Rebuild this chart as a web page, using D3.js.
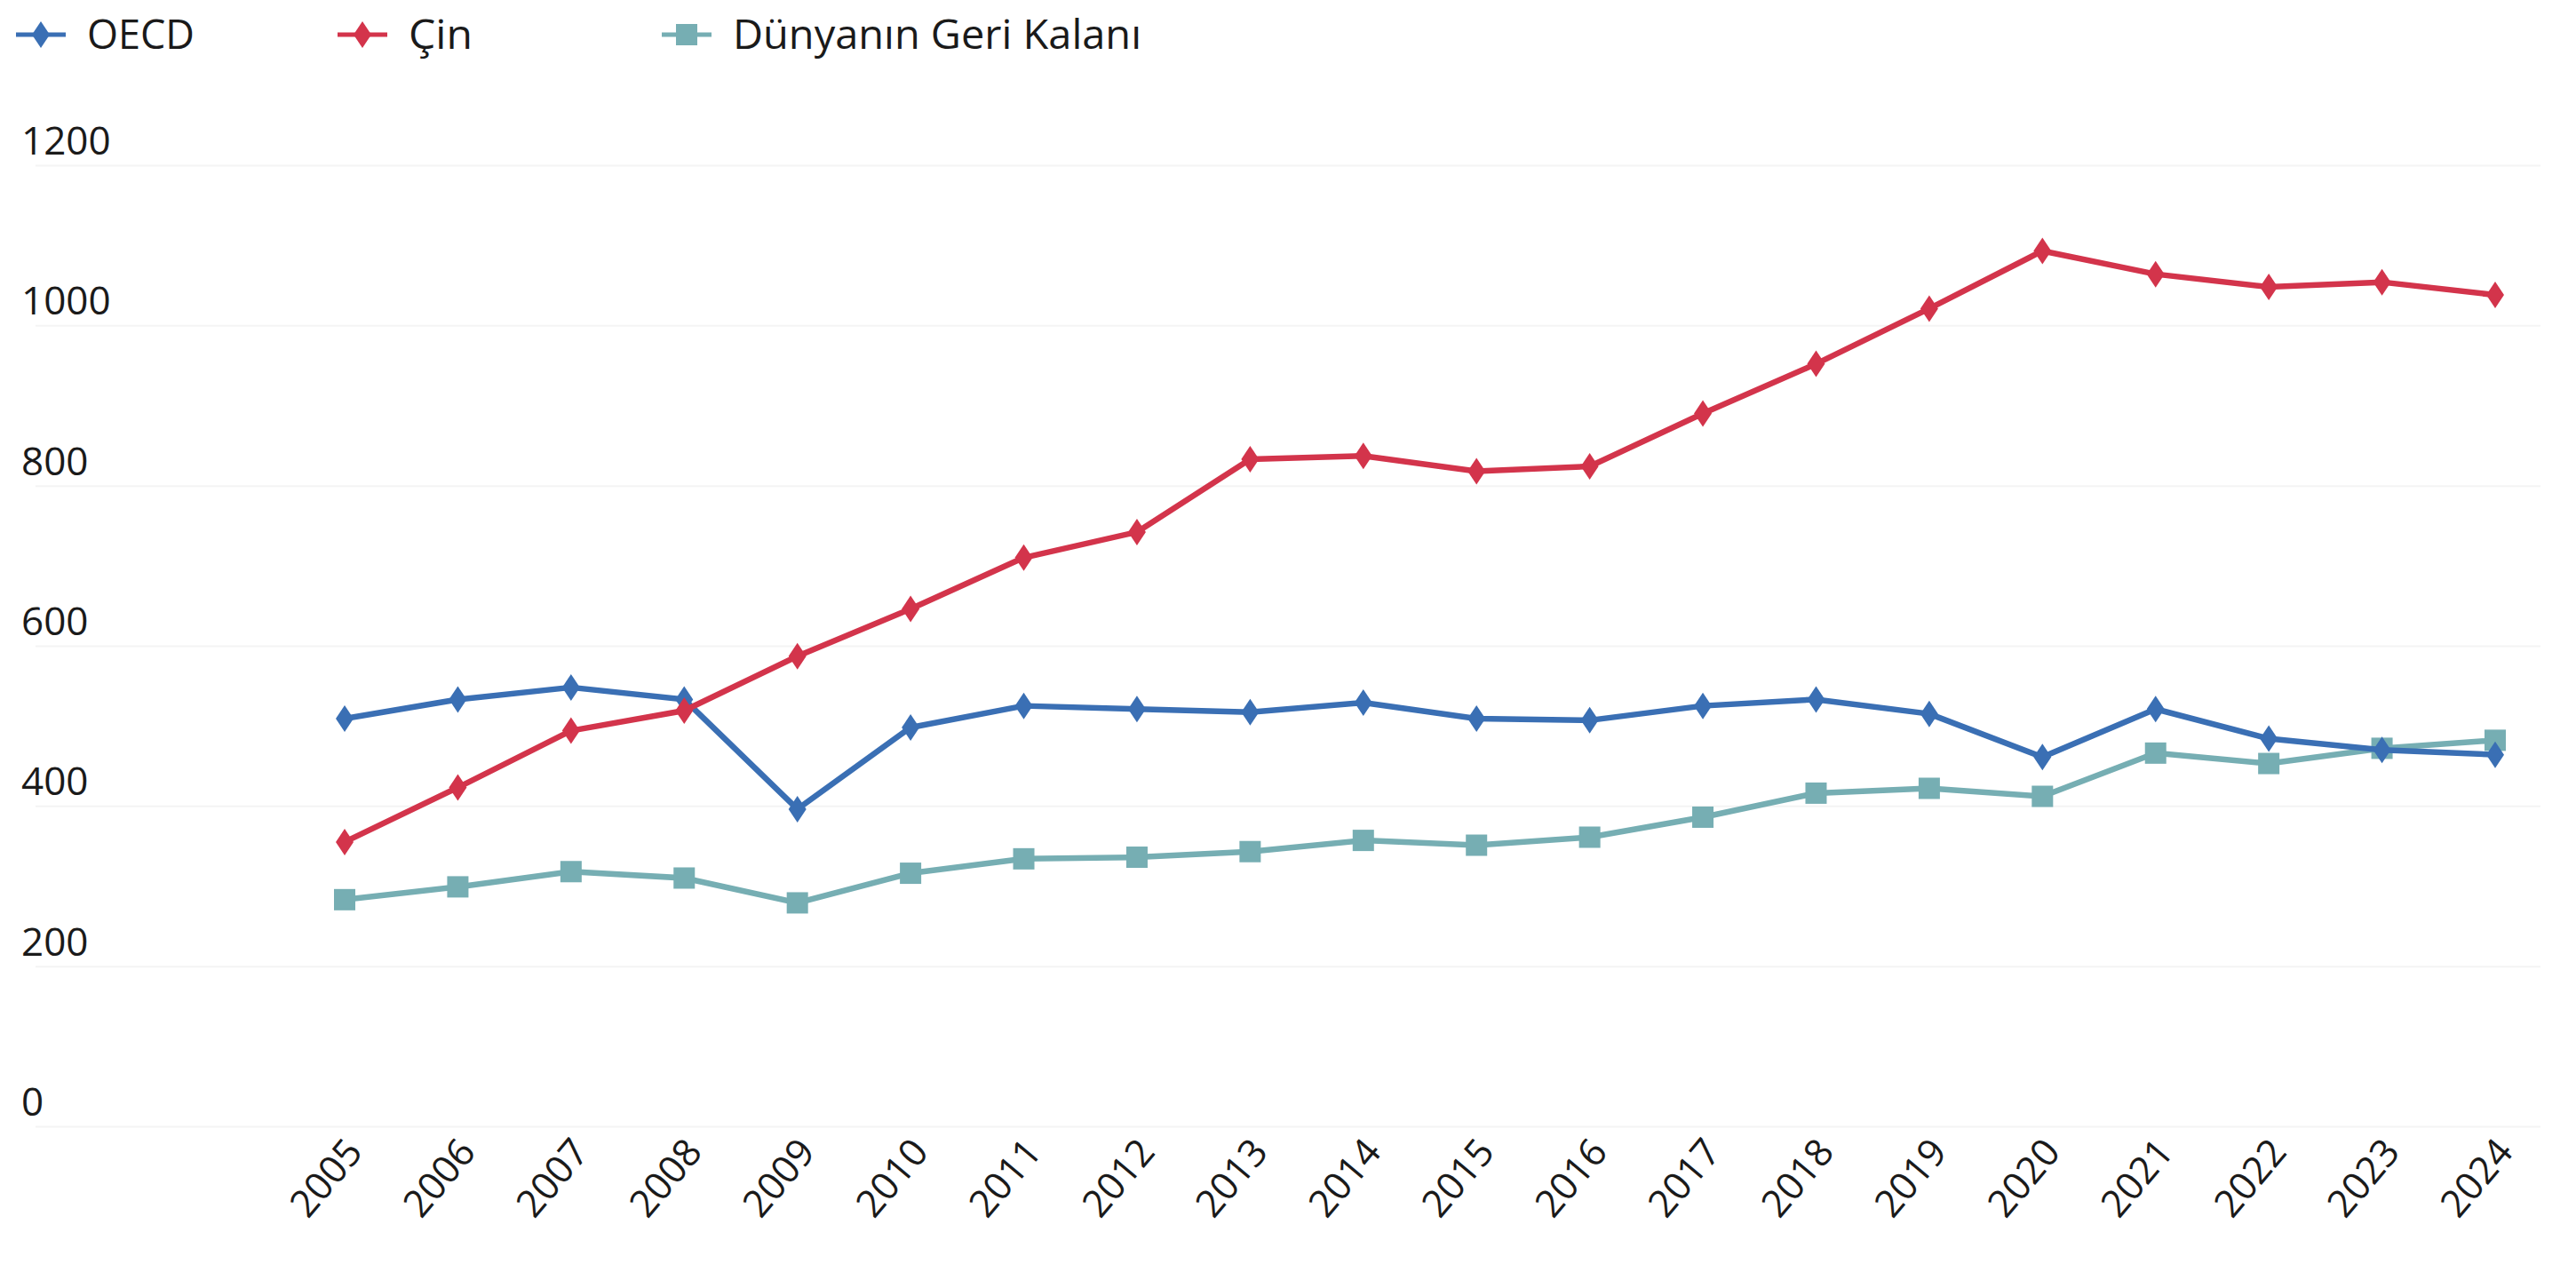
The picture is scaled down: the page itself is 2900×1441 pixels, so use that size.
<!DOCTYPE html>
<html>
<head>
<meta charset="utf-8">
<script src="https://cdn.jsdelivr.net/npm/d3@7"></script>
<style>
  body { margin: 0; background: #fff; }
  text { font-family: "Open Sans", sans-serif; fill: #1a1a1a; }
</style>
</head>
<body>
<div id="chart"></div>
<script>
// data
var years = ['2005','2006','2007','2008','2009','2010','2011','2012','2013','2014',
             '2015','2016','2017','2018','2019','2020','2021','2022','2023','2024']
var oecd  = [509, 533, 548, 533, 396, 498, 525, 521, 517, 529, 509, 507, 525, 533, 515, 461, 521, 484, 470, 464]
var cin   = [355, 423, 494, 519, 587, 646, 710, 742, 833, 837, 818, 824, 890, 952, 1021, 1093, 1064, 1048, 1054, 1038]
var dunya = [283, 299, 318, 310, 279, 316, 334, 336, 343, 357, 351, 361, 386, 416, 422, 412, 466, 453, 472, 482]
var yTicks = [0, 200, 400, 600, 800, 1000, 1200]
var seriesNames = ['OECD', 'Çin', 'Dünyanın Geri Kalanı']

var width = 2900, height = 1441

var series = [
  {name: seriesNames[0], values: oecd,  color: '#3a6fb4', shape: 'diamond'},
  {name: seriesNames[1], values: cin,   color: '#d3344b', shape: 'diamond'},
  {name: seriesNames[2], values: dunya, color: '#76aeb3', shape: 'square'}
]

var svg = d3.select('#chart').append('svg')
  .attr('width', width)
  .attr('height', height)

var x = d3.scalePoint().domain(years).range([388, 2809])
var y = d3.scaleLinear().domain([0, 1200]).range([1268, 186])

// gridlines (very faint in the original)
var grid = svg.append('g').attr('class', 'grid')
  .attr('transform', 'translate(2860,0)')
  .call(d3.axisLeft(y).tickValues(yTicks).tickSize(2820).tickFormat(''))
grid.select('.domain').remove()
grid.selectAll('line').attr('stroke', '#f4f4f4').attr('stroke-width', 2)

// y labels, left aligned above gridline
svg.append('g').selectAll('text')
  .data(yTicks).enter().append('text')
    .attr('x', 24)
    .attr('y', function(d){ return y(d) - 12 })
    .attr('font-size', 44)
    .text(function(d){ return d })

// x labels
svg.append('g').selectAll('text')
  .data(years).enter().append('text')
    .attr('transform', function(d){ return 'translate(' + (x(d) + 22) + ',1298) rotate(-50)' })
    .attr('text-anchor', 'end')
    .attr('font-size', 43)
    .text(function(d){ return d })

function marker(sel, shape, color){
  if(shape === 'diamond'){
    sel.append('path').attr('d', 'M0,-15L10,0L0,15L-10,0Z').attr('fill', color)
  } else {
    sel.append('rect').attr('x', -12).attr('y', -12).attr('width', 24).attr('height', 24).attr('fill', color)
  }
}

var line = d3.line()
  .x(function(d, i){ return x(years[i]) })
  .y(function(d){ return y(d) })

// draw teal first so red/blue sit on top
var order = [series[2], series[0], series[1]]
order.forEach(function(s){
  var g = svg.append('g')
  g.append('path')
    .attr('d', line(s.values))
    .attr('fill', 'none')
    .attr('stroke', s.color)
    .attr('stroke-width', 6.5)
    .attr('stroke-linejoin', 'round')
  s.values.forEach(function(v, i){
    var m = g.append('g').attr('transform', 'translate(' + x(years[i]) + ',' + y(v) + ')')
    marker(m, s.shape, s.color)
  })
})

// legend
var legendX = [18, 380, 745]
var legendW = [121, 72, 460]
series.forEach(function(s, i){
  var lg = svg.append('g').attr('transform', 'translate(' + legendX[i] + ',39)')
  lg.append('line').attr('x1', 0).attr('x2', 56).attr('stroke', s.color).attr('stroke-width', 5)
  var m = lg.append('g').attr('transform', 'translate(28,0)')
  marker(m, s.shape, s.color)
  lg.append('text')
    .attr('x', 80)
    .attr('y', 16)
    .attr('font-size', 46)
    .attr('textLength', legendW[i])
    .attr('lengthAdjust', 'spacingAndGlyphs')
    .text(s.name)
})
</script>
</body>
</html>
